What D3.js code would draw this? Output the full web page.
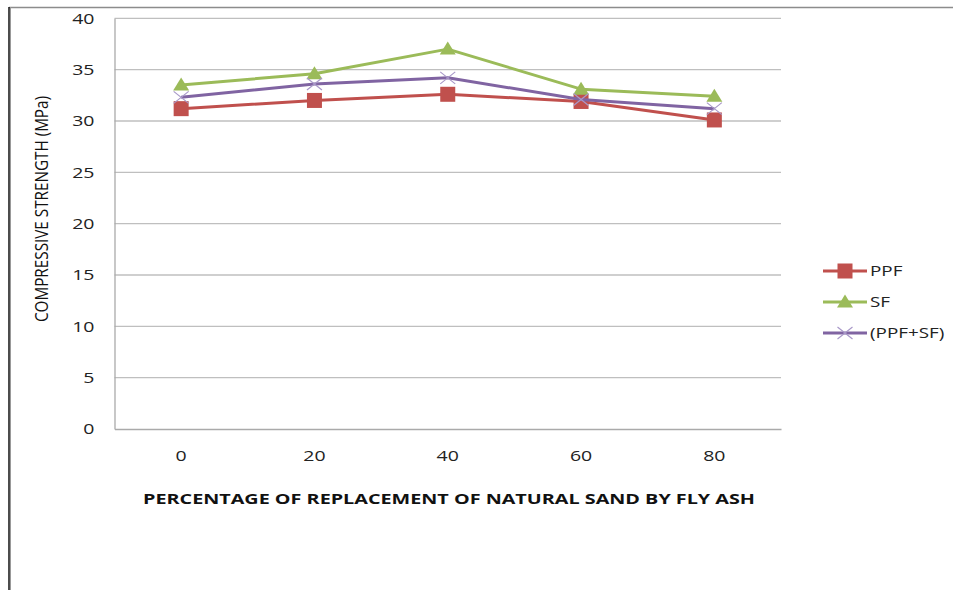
<!DOCTYPE html>
<html>
<head>
<meta charset="utf-8">
<script src="https://cdn.jsdelivr.net/npm/d3@7"></script>
<style>
  html, body { margin: 0; padding: 0; background: #fff; }
  svg { display: block; }
</style>
</head>
<body>
<svg id="chart" width="953" height="590"></svg>
<script>
// Compressive strength vs. fly ash replacement level
const replacement = [0, 20, 40, 60, 80];
const ppf    = [31.2, 32.0, 32.6, 31.9, 30.1];
const sf     = [33.5, 34.6, 37.0, 33.1, 32.4];
const ppfSf  = [32.3, 33.6, 34.2, 32.1, 31.2];
const yTicks = [0, 5, 10, 15, 20, 25, 30, 35, 40];

const seriesNames  = ["PPF", "SF", "(PPF+SF)"];
const seriesValues = [ppf, sf, ppfSf];
const seriesColors = ["#C0504D", "#9BBB59", "#8064A2"];
const seriesMarks  = ["square", "triangle", "cross"];

const svg = d3.select("#chart");
const font = "'Open Sans', 'Noto Sans', sans-serif";
const widen = 1.3; // text is set wide, as in the original export

function stretch(sel) {
  sel.each(function () {
    const len = this.getComputedTextLength();
    d3.select(this).attr("textLength", len * widen).attr("lengthAdjust", "spacingAndGlyphs");
  });
}

// outer frame (top and left edges)
svg.append("line").attr("x1", 9).attr("x2", 953).attr("y1", 7.5).attr("y2", 7.5)
  .attr("stroke", "#8c8c8c").attr("stroke-width", 1.5);
svg.append("line").attr("x1", 9).attr("x2", 9).attr("y1", 7).attr("y2", 590)
  .attr("stroke", "#111").attr("stroke-width", 1.5);
svg.append("line").attr("x1", 10.5).attr("x2", 10.5).attr("y1", 7).attr("y2", 590)
  .attr("stroke", "#999").attr("stroke-width", 1);

const plot = { left: 114.5, right: 781, top: 18.3, bottom: 429 };

const x = d3.scaleBand()
  .domain(replacement)
  .range([plot.left, plot.right])
  .paddingInner(0).paddingOuter(0);
const xc = v => x(v) + x.bandwidth() / 2;

const y = d3.scaleLinear().domain([0, 40]).range([plot.bottom, plot.top]);

// horizontal gridlines
svg.append("g")
  .selectAll("line")
  .data(yTicks.filter(t => t > 0))
  .join("line")
  .attr("x1", plot.left).attr("x2", plot.right)
  .attr("y1", d => y(d)).attr("y2", d => y(d))
  .attr("stroke", "#bfbfbf").attr("stroke-width", 1.3);

// y axis
const yAxis = svg.append("g")
  .attr("transform", `translate(${plot.left},0)`)
  .call(d3.axisLeft(y).tickValues(yTicks).tickSize(0).tickPadding(20));
yAxis.select(".domain").attr("stroke", "#aaa").attr("stroke-width", 1.3);
yAxis.selectAll("text").attr("font-family", font).attr("font-size", 15).attr("fill", "#222").call(stretch);

// x axis
const xAxis = svg.append("g")
  .attr("transform", `translate(0,${plot.bottom})`)
  .call(d3.axisBottom(x).tickSize(0).tickPadding(21));
xAxis.select(".domain").attr("stroke", "#aaa").attr("stroke-width", 1.3);
xAxis.selectAll("text").attr("font-family", font).attr("font-size", 15).attr("fill", "#222").call(stretch);

// axis titles
svg.append("text")
  .attr("x", 449).attr("y", 504)
  .attr("text-anchor", "middle")
  .attr("font-family", font).attr("font-size", 15).attr("font-weight", "bold")
  .attr("textLength", 612).attr("lengthAdjust", "spacingAndGlyphs")
  .attr("fill", "#111")
  .text("PERCENTAGE OF REPLACEMENT OF NATURAL SAND BY FLY ASH");

svg.append("text")
  .attr("transform", `translate(48,209) scale(${widen},1) rotate(-90)`)
  .attr("text-anchor", "middle")
  .attr("font-family", font).attr("font-size", 14.5)
  .attr("textLength", 226).attr("lengthAdjust", "spacingAndGlyphs")
  .attr("fill", "#111")
  .text("COMPRESSIVE STRENGTH (MPa)");

function drawMarker(g, kind, color, cx, cy) {
  if (kind === "square") {
    g.append("rect").attr("x", cx - 7.5).attr("y", cy - 7.5).attr("width", 15).attr("height", 15)
      .attr("fill", color);
  } else if (kind === "triangle") {
    g.append("path")
      .attr("d", `M${cx},${cy - 7.5}L${cx + 8},${cy + 5.5}L${cx - 8},${cy + 5.5}Z`)
      .attr("fill", color);
  } else {
    g.append("path")
      .attr("d", `M${cx - 7.5},${cy - 6}L${cx + 7.5},${cy + 6}M${cx - 7.5},${cy + 6}L${cx + 7.5},${cy - 6}`)
      .attr("stroke", "#a898c8").attr("stroke-width", 1.2).attr("fill", "none");
  }
}

const line = d3.line().x((d, i) => xc(replacement[i])).y(d => y(d));

// series (PPF, SF, then the blend on top)
seriesValues.forEach((vals, si) => {
  const g = svg.append("g");
  g.append("path").datum(vals)
    .attr("d", line)
    .attr("fill", "none")
    .attr("stroke", seriesColors[si])
    .attr("stroke-width", 3)
    .attr("stroke-linejoin", "round");
  vals.forEach((v, i) => drawMarker(g, seriesMarks[si], seriesColors[si], xc(replacement[i]), y(v)));
});

// legend
const legend = svg.append("g");
seriesNames.forEach((name, i) => {
  const ly = 271 + i * 31;
  legend.append("line").attr("x1", 823).attr("x2", 867).attr("y1", ly).attr("y2", ly)
    .attr("stroke", seriesColors[i]).attr("stroke-width", 3);
  drawMarker(legend, seriesMarks[i], seriesColors[i], 845, ly);
  legend.append("text")
    .attr("x", 870).attr("y", ly + 5)
    .attr("font-family", font).attr("font-size", 14.5).attr("fill", "#222")
    .text(name)
    .call(stretch);
});
</script>
</body>
</html>
